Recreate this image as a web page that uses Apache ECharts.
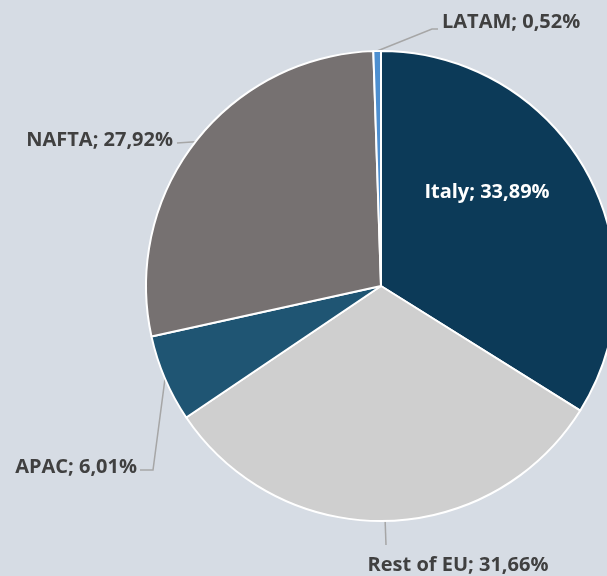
<!DOCTYPE html>
<html>
<head>
<meta charset="utf-8">
<script src="https://cdn.jsdelivr.net/npm/echarts@6/dist/echarts.min.js"></script>
<style>
    html, body { margin: 0; padding: 0; background: #d6dce4; }
    #chart { width: 607px; height: 576px; }
</style>
</head>
<body>
<div id="chart"></div>
<script>
    // slices, clockwise from 12 o'clock
    const regions = ['Italy', 'Rest of EU', 'APAC', 'NAFTA', 'LATAM'];
    const shares = [33.89, 31.66, 6.01, 27.92, 0.52];
    const colors = ['#0c3a58', '#cfcfcf', '#1f5573', '#767171', '#4d8fd0'];

    // where each label sits, and how its leader line bends
    const labelSpots = {
        'Italy':      { x: 487, y: 192, align: 'center' },
        'Rest of EU': { x: 458, y: 565, align: 'center', bend: [[386, 545]] },
        'APAC':       { x: 137, y: 467, align: 'right', bend: [[153, 470], [140, 470]] },
        'NAFTA':      { x: 173, y: 140, align: 'right', bend: [[177, 143]] },
        'LATAM':      { x: 442, y: 22, align: 'left', bend: [[432, 29], [438, 29]] }
    };

    const myChart = echarts.init(document.getElementById('chart'));

    const seriesData = regions.map((name, i) => {
        const item = {
            name: name,
            value: shares[i],
            itemStyle: { color: colors[i] }
        };
        if (name === 'Italy') {
            item.label = { position: 'inside', color: '#ffffff' };
            item.labelLine = { show: false };
        }
        return item;
    });

    const option = {
        backgroundColor: '#d6dce4',
        animation: false,
        series: [{
            type: 'pie',
            center: [381, 286],
            radius: 235,
            startAngle: 90,
            clockwise: true,
            avoidLabelOverlap: false,
            data: seriesData,
            itemStyle: {
                borderColor: '#ffffff',
                borderWidth: 2
            },
            label: {
                show: true,
                position: 'outside',
                color: '#404040',
                fontFamily: 'Open Sans',
                fontWeight: 'bold',
                fontSize: 20,
                formatter: p => p.name + '; ' + p.value.toFixed(2).replace('.', ',') + '%'
            },
            labelLine: {
                show: true,
                lineStyle: { color: '#a6a6a6', width: 1.5 }
            },
            labelLayout: params => {
                const spot = labelSpots[regions[params.dataIndex]];
                const out = {
                    x: spot.x,
                    y: spot.y,
                    align: spot.align,
                    verticalAlign: 'middle'
                };
                if (spot.bend && params.labelLinePoints) {
                    const start = params.labelLinePoints[0];
                    const pts = [start].concat(spot.bend);
                    if (pts.length < 3) pts.push(spot.bend[spot.bend.length - 1]);
                    out.labelLinePoints = pts;
                }
                return out;
            }
        }]
    };

    myChart.setOption(option);
    window.addEventListener('resize', () => myChart.resize(), false);
</script>
</body>
</html>
